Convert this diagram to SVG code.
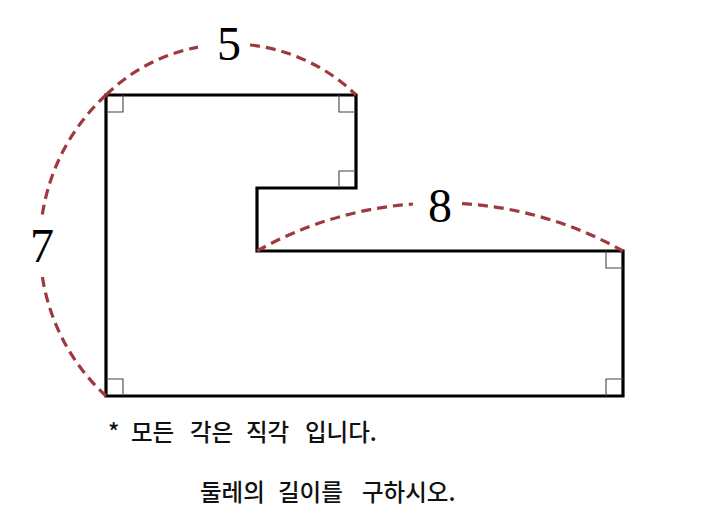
<svg xmlns="http://www.w3.org/2000/svg" width="707" height="520" viewBox="0 0 707 520">
  <style>
    .shape { fill: none; stroke: #000; stroke-width: 3.2; stroke-linejoin: miter; }
    .ra { fill: none; stroke: #444; stroke-width: 1.1; }
    .dim { fill: none; stroke: #a0383f; stroke-width: 3.2; stroke-dasharray: 10 6; }
    .num { font-family: "Liberation Serif", "Times New Roman", serif; font-size: 48px; fill: #000; text-anchor: middle; }
    .note { font-family: "Noto Sans CJK KR", "Noto Sans", sans-serif; font-size: 23.5px; font-weight: 500; fill: #111; }
  </style>
  <rect width="707" height="520" fill="#fff"/>
  <g id="figure">
    <polygon class="shape" points="106,95 356,95 356,188 257,188 257,251 623,251 623,396 106,396"/>
  </g>
  <g id="right-angles">
    <polyline class="ra" points="106,112 123,112 123,95"/>
    <polyline class="ra" points="339,95 339,112 356,112"/>
    <polyline class="ra" points="339,188 339,171 356,171"/>
    <polyline class="ra" points="606,251 606,268 623,268"/>
    <polyline class="ra" points="606,396 606,379 623,379"/>
    <polyline class="ra" points="106,379 123,379 123,396"/>
  </g>
  <g id="connectors">
    <path class="dim" d="M106,95 A178.7,178.7 0 0 1 198,47.1"/>
    <path class="dim" d="M250,45 A178.7,178.7 0 0 1 356,95"/>
    <path class="dim" d="M106,95 A204.6,204.6 0 0 0 41.6,220"/>
    <path class="dim" d="M42.4,277 A204.6,204.6 0 0 0 106,396"/>
    <path class="dim" d="M257,251 A372.8,372.8 0 0 1 413,204"/>
    <path class="dim" d="M462,203.6 A372.8,372.8 0 0 1 623,251"/>
  </g>
  <g id="labels">
    <text class="num" x="229" y="60">5</text>
    <text class="num" x="42" y="262">7</text>
    <text class="num" x="440" y="222">8</text>
  </g>
  <g id="notes">
    <text class="note" y="441"><tspan x="108">*</tspan> <tspan x="131">모든</tspan> <tspan x="190">각은</tspan> <tspan x="246">직각</tspan> <tspan x="305">입니다.</tspan></text>
    <text class="note" y="501"><tspan x="200">둘레의</tspan> <tspan x="278">길이를</tspan> <tspan x="362">구하시오.</tspan></text>
  </g>
</svg>
